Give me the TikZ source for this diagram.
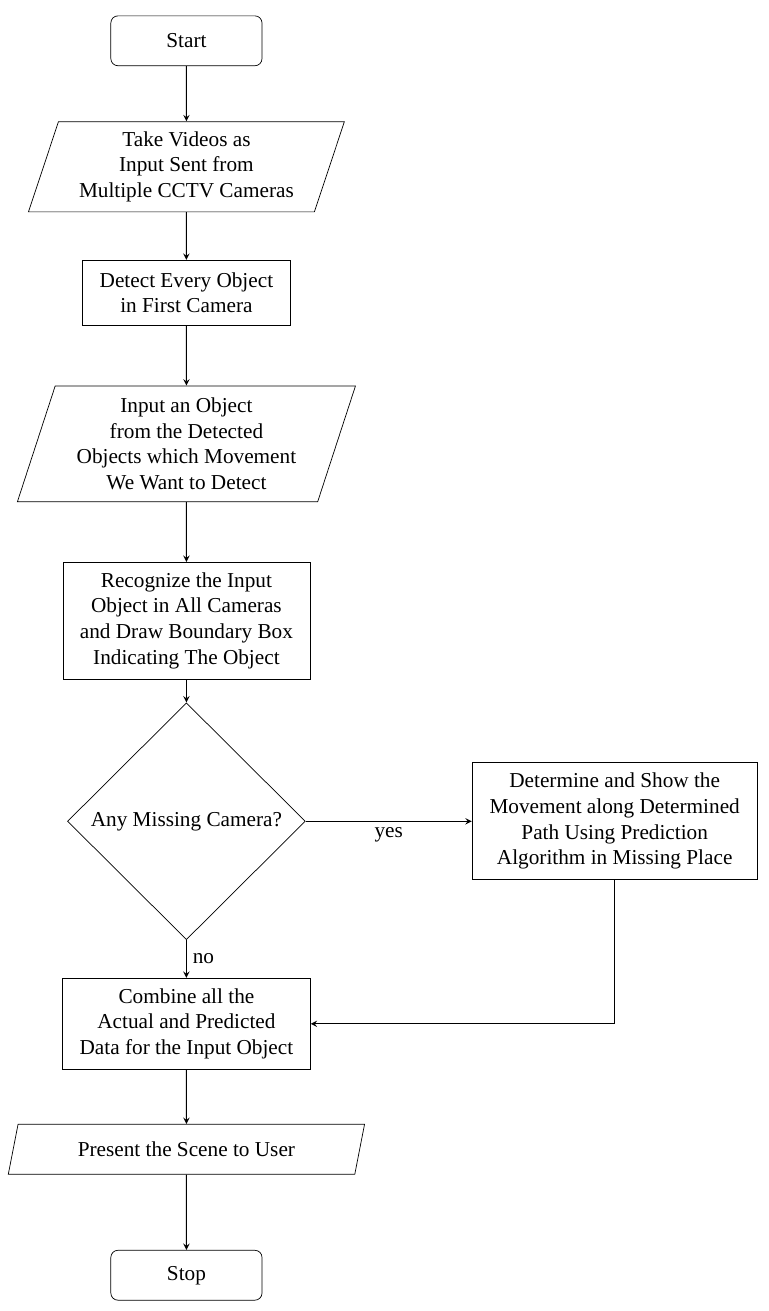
\documentclass[tikz,border=0pt]{standalone}
\usepackage{fontspec}
\setmainfont{Liberation Serif}
\usepackage{tikz}
\usetikzlibrary{arrows.meta,arrows,positioning,shapes.geometric}
\tikzset{
  startstop/.style={rectangle,rounded corners,draw,minimum width=3cm,minimum height=0.99cm,align=center},
  io/.style={trapezium,trapezium left angle=70,trapezium right angle=110,trapezium stretches body,draw,align=center},
  process/.style={rectangle,draw,align=center},
  decision/.style={diamond,draw,align=center,inner sep=0pt},
  every node/.style={font=\fontsize{12}{14.5}\selectfont}
}
\tikzstyle{arrow} = [semithick,->,>=stealth]

\begin{document}
\begin{tikzpicture}
  \useasboundingbox (0,0) rectangle (15.245,-26.02);
  \node[startstop] (start) at (3.70,-0.81) {Start};
  \node[io,minimum width=6.27cm,minimum height=1.79cm] (videos) at (3.70,-3.31)
    {Take Videos as\\Input Sent from\\Multiple CCTV Cameras};
  \node[process,minimum width=4.13cm,minimum height=1.29cm] (detect) at (3.70,-5.81)
    {Detect Every Object\\in First Camera};
  \node[io,minimum width=6.71cm,minimum height=2.30cm] (select) at (3.70,-8.81)
    {Input an Object\\from the Detected\\Objects which Movement\\We Want to Detect};
  \node[process,minimum width=4.90cm,minimum height=2.32cm] (recog) at (3.70,-12.32)
    {Recognize the Input\\Object in All Cameras\\and Draw Boundary Box\\Indicating The Object};
  \node[decision,minimum width=4.72cm,minimum height=4.70cm] (missing) at (3.70,-16.30)
    {Any Missing Camera?};
  \node[process,minimum width=5.66cm,minimum height=2.32cm] (predict) at (12.20,-16.30)
    {Determine and Show the\\Movement along Determined\\Path Using Prediction\\Algorithm in Missing Place};
  \node[process,minimum width=4.92cm,minimum height=1.81cm] (combine) at (3.70,-20.32)
    {Combine all the\\Actual and Predicted\\Data for the Input Object};
  \node[io,minimum width=7.07cm,minimum height=0.99cm] (present) at (3.70,-22.81)
    {Present the Scene to User};
  \node[startstop] (stop) at (3.70,-25.31) {Stop};

  \draw[arrow] (start) -- (videos);
  \draw[arrow] (videos) -- (detect);
  \draw[arrow] (detect) -- (select);
  \draw[arrow] (select) -- (recog);
  \draw[arrow] (recog) -- (missing);
  \draw[arrow] (missing) -- node[below]{yes} (predict);
  \draw[arrow] (missing) -- node[right]{no} (combine);
  \draw[arrow] (predict) |- (combine);
  \draw[arrow] (combine) -- (present);
  \draw[arrow] (present) -- (stop);
\end{tikzpicture}
\end{document}
